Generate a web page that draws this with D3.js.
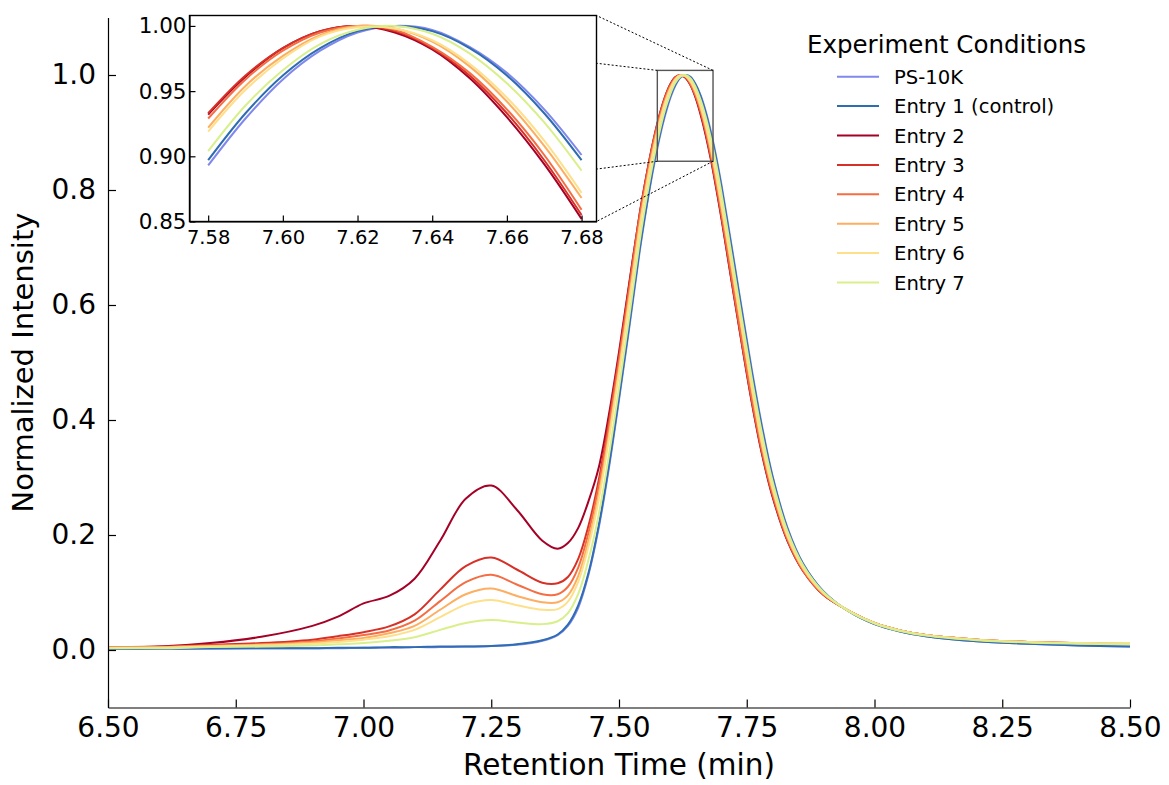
<!doctype html>
<html lang="en">
<head>
<meta charset="utf-8">
<title>Normalized intensity vs retention time</title>
<script src="https://d3js.org/d3.v7.min.js"></script>
<style>
  body { margin: 0; background: #fff; }
  svg { display: block; font-family: "DejaVu Sans", sans-serif; }
  .axis path, .axis line { stroke: #000; stroke-width: 1.2; }
  .axis text { fill: #000; font-family: "DejaVu Sans", sans-serif; }
</style>
</head>
<body>
<svg id="chart" width="1169" height="785"></svg>
<script>
// retention time grid (min), denser around the shoulder and the main peak
const retentionTime = [6.50, 6.60, 6.70, 6.80, 6.90, 6.95, 7.00, 7.05, 7.10, 7.15,
  7.20, 7.25, 7.30, 7.35, 7.38, 7.40, 7.42, 7.44, 7.46, 7.48,
  7.50, 7.52, 7.54, 7.55, 7.56, 7.57, 7.58, 7.59, 7.60, 7.61,
  7.62, 7.63, 7.64, 7.65, 7.66, 7.67, 7.68, 7.69, 7.70, 7.72,
  7.74, 7.76, 7.78, 7.80, 7.83, 7.86, 7.90, 7.95, 8.00, 8.05,
  8.10, 8.20, 8.30, 8.40, 8.50];

const ps10k = [0.002, 0.002, 0.002, 0.003, 0.003, 0.003, 0.004, 0.004, 0.005, 0.005,
  0.006, 0.007, 0.009, 0.016, 0.026, 0.042, 0.073, 0.130, 0.211, 0.315,
  0.435, 0.560, 0.690, 0.748, 0.802, 0.850, 0.893, 0.929, 0.959, 0.981,
  0.995, 1.000, 0.997, 0.984, 0.964, 0.936, 0.901, 0.859, 0.812, 0.705,
  0.595, 0.487, 0.389, 0.305, 0.212, 0.151, 0.102, 0.067, 0.045, 0.032,
  0.024, 0.015, 0.011, 0.008, 0.006];
const entry1 = [0.002, 0.002, 0.003, 0.003, 0.003, 0.004, 0.004, 0.005, 0.005, 0.006,
  0.006, 0.007, 0.010, 0.017, 0.027, 0.044, 0.077, 0.133, 0.215, 0.320,
  0.440, 0.565, 0.695, 0.752, 0.805, 0.855, 0.897, 0.933, 0.962, 0.983,
  0.996, 1.000, 0.996, 0.983, 0.962, 0.933, 0.897, 0.855, 0.807, 0.700,
  0.590, 0.482, 0.385, 0.302, 0.210, 0.150, 0.102, 0.067, 0.045, 0.032,
  0.024, 0.015, 0.011, 0.008, 0.006];
const entry2 = [0.004, 0.006, 0.012, 0.023, 0.042, 0.058, 0.081, 0.094, 0.124, 0.190,
  0.263, 0.286, 0.244, 0.190, 0.176, 0.186, 0.212, 0.258, 0.316, 0.408,
  0.518, 0.638, 0.756, 0.807, 0.854, 0.896, 0.932, 0.961, 0.983, 0.996,
  1.000, 0.995, 0.982, 0.960, 0.930, 0.894, 0.852, 0.804, 0.753, 0.643,
  0.534, 0.430, 0.340, 0.268, 0.189, 0.138, 0.096, 0.068, 0.047, 0.034,
  0.026, 0.018, 0.014, 0.012, 0.011];
const entry3 = [0.005, 0.006, 0.009, 0.012, 0.018, 0.024, 0.031, 0.041, 0.062, 0.105,
  0.146, 0.161, 0.140, 0.117, 0.116, 0.127, 0.158, 0.215, 0.294, 0.397,
  0.511, 0.635, 0.756, 0.807, 0.855, 0.897, 0.933, 0.962, 0.983, 0.996,
  1.000, 0.996, 0.983, 0.962, 0.933, 0.897, 0.855, 0.807, 0.756, 0.645,
  0.536, 0.432, 0.342, 0.270, 0.190, 0.138, 0.096, 0.068, 0.047, 0.034,
  0.026, 0.018, 0.014, 0.012, 0.011];
const entry4 = [0.005, 0.005, 0.008, 0.010, 0.015, 0.020, 0.026, 0.034, 0.051, 0.085,
  0.118, 0.131, 0.114, 0.097, 0.097, 0.110, 0.143, 0.203, 0.284, 0.387,
  0.503, 0.627, 0.751, 0.802, 0.850, 0.893, 0.929, 0.959, 0.981, 0.995,
  1.000, 0.997, 0.984, 0.964, 0.936, 0.901, 0.859, 0.812, 0.761, 0.651,
  0.541, 0.437, 0.346, 0.273, 0.192, 0.139, 0.097, 0.068, 0.047, 0.034,
  0.026, 0.018, 0.014, 0.012, 0.011];
const entry5 = [0.004, 0.005, 0.007, 0.009, 0.013, 0.017, 0.021, 0.029, 0.042, 0.070,
  0.097, 0.107, 0.094, 0.083, 0.083, 0.095, 0.128, 0.189, 0.269, 0.373,
  0.489, 0.614, 0.738, 0.792, 0.841, 0.885, 0.922, 0.954, 0.977, 0.993,
  1.000, 0.998, 0.988, 0.969, 0.942, 0.908, 0.868, 0.822, 0.772, 0.667,
  0.558, 0.452, 0.355, 0.280, 0.196, 0.142, 0.098, 0.068, 0.047, 0.034,
  0.026, 0.018, 0.014, 0.012, 0.012];
const entry6 = [0.004, 0.004, 0.006, 0.008, 0.011, 0.014, 0.018, 0.024, 0.035, 0.057,
  0.079, 0.087, 0.078, 0.070, 0.071, 0.084, 0.118, 0.179, 0.260, 0.365,
  0.482, 0.606, 0.732, 0.787, 0.836, 0.880, 0.919, 0.951, 0.975, 0.992,
  0.999, 0.998, 0.989, 0.971, 0.945, 0.912, 0.872, 0.827, 0.777, 0.672,
  0.563, 0.457, 0.359, 0.283, 0.198, 0.143, 0.099, 0.068, 0.047, 0.034,
  0.026, 0.018, 0.014, 0.012, 0.012];
const entry7 = [0.003, 0.003, 0.005, 0.006, 0.008, 0.010, 0.012, 0.016, 0.022, 0.035,
  0.047, 0.052, 0.048, 0.045, 0.050, 0.064, 0.097, 0.156, 0.234, 0.337,
  0.455, 0.579, 0.708, 0.765, 0.817, 0.863, 0.904, 0.939, 0.966, 0.986,
  0.997, 1.000, 0.994, 0.979, 0.956, 0.926, 0.889, 0.846, 0.797, 0.689,
  0.579, 0.472, 0.376, 0.295, 0.206, 0.148, 0.101, 0.067, 0.046, 0.033,
  0.025, 0.017, 0.013, 0.011, 0.010];

const seriesNames = ["PS-10K", "Entry 1 (control)", "Entry 2", "Entry 3",
  "Entry 4", "Entry 5", "Entry 6", "Entry 7"];
const seriesValues = [ps10k, entry1, entry2, entry3, entry4, entry5, entry6, entry7];
const colors = ["#8088ee", "#2f6db3", "#a50026", "#d73027", "#f46d43",
  "#fdae61", "#fee08b", "#d9ef8b"];

const xTicks = [6.50, 6.75, 7.00, 7.25, 7.50, 7.75, 8.00, 8.25, 8.50];
const yTicks = [0.0, 0.2, 0.4, 0.6, 0.8, 1.0];
const insetXTicks = [7.58, 7.60, 7.62, 7.64, 7.66, 7.68];
const insetYTicks = [0.85, 0.90, 0.95, 1.00];
const insetXRange = [7.575, 7.684];
const insetYRange = [0.85, 1.008];
const insetDataWindow = [7.58, 7.68];

const series = seriesNames.map((name, i) => ({
  name: name,
  color: colors[i],
  points: retentionTime.map((t, j) => [t, seriesValues[i][j]])
}));

const svg = d3.select("#chart");
svg.append("rect").attr("width", 1169).attr("height", 785).attr("fill", "#fff");

const x = d3.scaleLinear().domain([6.5, 8.5]).range([108, 1130]);
const y = d3.scaleLinear().domain([-0.1, 1.1]).range([707.5, 17.5]);

const defs = svg.append("defs");
defs.append("clipPath").attr("id", "clipMain")
  .append("rect").attr("x", 108).attr("y", 17.5).attr("width", 1022).attr("height", 690);

const line = d3.line()
  .x(d => x(d[0]))
  .y(d => y(d[1]))
  .curve(d3.curveCatmullRom.alpha(0.5));

svg.append("g").attr("clip-path", "url(#clipMain)")
  .selectAll("path")
  .data(series)
  .enter().append("path")
  .attr("d", d => line(d.points))
  .attr("fill", "none")
  .attr("stroke", d => d.color)
  .attr("stroke-width", 2)
  .attr("stroke-linejoin", "round");

// axes, ticks pointing inwards
const xAxis = svg.append("g").attr("class", "axis")
  .attr("transform", "translate(0," + y.range()[0] + ")")
  .call(d3.axisBottom(x).tickValues(xTicks).tickFormat(d3.format(".2f"))
    .tickSizeInner(-8).tickSizeOuter(0).tickPadding(10));
xAxis.selectAll("text").attr("font-size", 28);

const yAxis = svg.append("g").attr("class", "axis")
  .attr("transform", "translate(" + x.range()[0] + ",0)")
  .call(d3.axisLeft(y).tickValues(yTicks).tickFormat(d3.format(".1f"))
    .tickSizeInner(-8).tickSizeOuter(0).tickPadding(12));
yAxis.selectAll("text").attr("font-size", 28);

svg.append("text")
  .attr("x", (x.range()[0] + x.range()[1]) / 2)
  .attr("y", 775)
  .attr("text-anchor", "middle")
  .attr("font-size", 29.5)
  .text("Retention Time (min)");

svg.append("text")
  .attr("transform", "translate(33," + (y.range()[0] + y.range()[1]) / 2 + ") rotate(-90)")
  .attr("text-anchor", "middle")
  .attr("font-size", 29)
  .text("Normalized Intensity");

// inset placement
const ix = d3.scaleLinear().domain(insetXRange).range([189.5, 596.5]);
const iy = d3.scaleLinear().domain(insetYRange).range([221.5, 15.5]);

// zoom marker on the main axes and the connector lines
const zx0 = x(insetXRange[0]), zx1 = x(insetXRange[1]);
const zy0 = y(insetYRange[1]), zy1 = y(insetYRange[0]);
svg.append("rect")
  .attr("x", zx0).attr("y", zy0)
  .attr("width", zx1 - zx0).attr("height", zy1 - zy0)
  .attr("fill", "none").attr("stroke", "#555").attr("stroke-width", 1.4);

const connectors = [
  [zx0, zy0, ix.range()[0], iy.range()[1]],
  [zx1, zy0, ix.range()[1], iy.range()[1]],
  [zx0, zy1, ix.range()[0], iy.range()[0]],
  [zx1, zy1, ix.range()[1], iy.range()[0]]
];
svg.append("g").selectAll("line")
  .data(connectors)
  .enter().append("line")
  .attr("x1", d => d[0]).attr("y1", d => d[1])
  .attr("x2", d => d[2]).attr("y2", d => d[3])
  .attr("stroke", "#000").attr("stroke-width", 1)
  .attr("stroke-dasharray", "2,2");

// inset
const inset = svg.append("g");
inset.append("rect")
  .attr("x", ix.range()[0]).attr("y", iy.range()[1])
  .attr("width", ix.range()[1] - ix.range()[0])
  .attr("height", iy.range()[0] - iy.range()[1])
  .attr("fill", "#fff");

defs.append("clipPath").attr("id", "clipInset")
  .append("rect")
  .attr("x", ix.range()[0]).attr("y", iy.range()[1])
  .attr("width", ix.range()[1] - ix.range()[0])
  .attr("height", iy.range()[0] - iy.range()[1]);

const insetLine = d3.line()
  .x(d => ix(d[0]))
  .y(d => iy(d[1]))
  .curve(d3.curveCatmullRom.alpha(0.5));

inset.append("g").attr("clip-path", "url(#clipInset)")
  .selectAll("path")
  .data(series)
  .enter().append("path")
  .attr("d", d => insetLine(d.points.filter(p =>
    p[0] >= insetDataWindow[0] - 1e-9 && p[0] <= insetDataWindow[1] + 1e-9)))
  .attr("fill", "none")
  .attr("stroke", d => d.color)
  .attr("stroke-width", 2);

const ixAxis = inset.append("g").attr("class", "axis")
  .attr("transform", "translate(0," + iy.range()[0] + ")")
  .call(d3.axisBottom(ix).tickValues(insetXTicks).tickFormat(d3.format(".2f"))
    .tickSizeInner(-6).tickSizeOuter(0).tickPadding(9));
ixAxis.selectAll("text").attr("font-size", 19.5);

const iyAxis = inset.append("g").attr("class", "axis")
  .attr("transform", "translate(" + ix.range()[0] + ",0)")
  .call(d3.axisLeft(iy).tickValues(insetYTicks).tickFormat(d3.format(".2f"))
    .tickSizeInner(-6).tickSizeOuter(0).tickPadding(3));
iyAxis.selectAll("text").attr("font-size", 21.5);

inset.append("rect")
  .attr("x", ix.range()[0]).attr("y", iy.range()[1])
  .attr("width", ix.range()[1] - ix.range()[0])
  .attr("height", iy.range()[0] - iy.range()[1])
  .attr("fill", "none").attr("stroke", "#000").attr("stroke-width", 1.4);

// legend
const legend = svg.append("g").attr("transform", "translate(807,0)");
legend.append("text")
  .attr("x", 0).attr("y", 53)
  .attr("font-size", 24.5)
  .text("Experiment Conditions");

const rows = legend.selectAll("g.row")
  .data(series)
  .enter().append("g")
  .attr("class", "row")
  .attr("transform", (d, i) => "translate(0," + (76.7 + i * 29.4) + ")");
rows.append("line")
  .attr("x1", 30).attr("x2", 72)
  .attr("stroke", d => d.color)
  .attr("stroke-width", 2);
rows.append("text")
  .attr("x", 87).attr("y", 7)
  .attr("font-size", 19.6)
  .text(d => d.name);
</script>
</body>
</html>
